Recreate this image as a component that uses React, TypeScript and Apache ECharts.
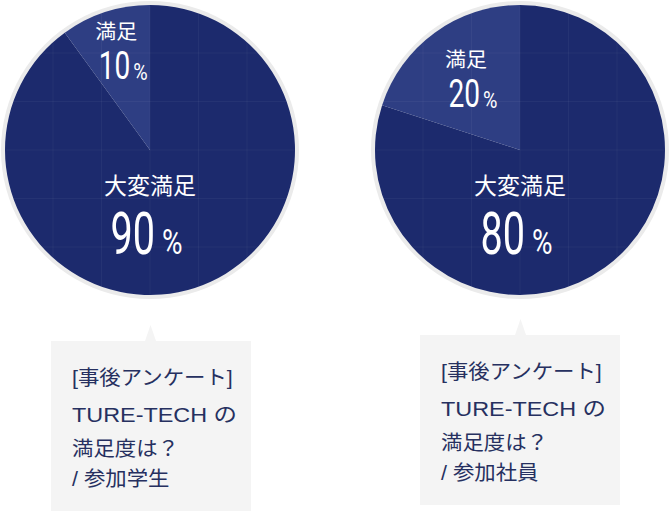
import {useEffect, useRef} from 'react';
import * as echarts from 'echarts';

// survey answers, one pie per group
const categories = ['大変満足', '満足'];
const studentValues = [90, 10];
const staffValues = [80, 20];

const boxHeading = '[事後アンケート]';
const boxQuestion = ['TURE-TECH の', '満足度は？'];
const respondents = ['/ 参加学生', '/ 参加社員'];

const NAVY = '#1c2a6d';
const NAVY_LIGHT = '#2e3e83';
const TEXT = '#263060';
const NUM_FONT = 'Roboto';
const JP_FONT = '"Liberation Sans", "Noto Sans CJK JP", sans-serif';

const R = 145;
const pies = [
    {cx: 150, cy: 150, values: studentValues, labelR: 106, box: {x: 51, y: 341, h: 175}},
    {cx: 520, cy: 150, values: staffValues, labelR: 90, box: {x: 420, y: 335, h: 170}},
];

const txt = (x: number, y: number, text: string, fontSize: number, opts: any = {}) => ({
    type: 'text',
    x,
    y,
    z: 10,
    scaleX: opts.scaleX ?? 1,
    style: {
        text,
        fontSize,
        fontFamily: opts.font ?? JP_FONT,
        fontWeight: opts.weight ?? 'normal',
        fill: opts.fill ?? '#fff',
        align: opts.align ?? 'center',
        textAlign: opts.align ?? 'center',
        verticalAlign: 'middle',
        textVerticalAlign: 'middle',
    },
});

const buildGraphic = () => {
    const els: any[] = [];
    pies.forEach((p, i) => {
        const total = p.values.reduce((a, b) => a + b, 0);
        // grey ring behind the pie
        els.push({type: 'circle', z: 0, shape: {cx: p.cx, cy: p.cy, r: R + 4}, style: {fill: '#ebebeb'}});
        // faint grid texture
        for (let k = -2; k <= 2; k++) {
            const d = k * 48.5;
            const h = Math.sqrt(R * R - d * d);
            els.push({type: 'line', z: 9, silent: true, shape: {x1: p.cx + d, y1: p.cy - h, x2: p.cx + d, y2: p.cy + h}, style: {stroke: 'rgba(255,255,255,0.045)', lineWidth: 1}});
            els.push({type: 'line', z: 9, silent: true, shape: {x1: p.cx - h, y1: p.cy + d, x2: p.cx + h, y2: p.cy + d}, style: {stroke: 'rgba(255,255,255,0.045)', lineWidth: 1}});
        }
        // main slice label
        els.push(txt(p.cx, p.cy + 36, categories[0], 23));
        els.push(txt(p.cx + 5, p.cy + 83, String(p.values[0]), 60, {font: NUM_FONT, align: 'right', scaleX: 0.66}));
        els.push(txt(p.cx + 12, p.cy + 92.5, '%', 35, {font: NUM_FONT, align: 'left', scaleX: 0.8}));
        // minor slice label, placed on the slice's middle angle
        const mid = ((90 + (p.values[1] / total) * 180) * Math.PI) / 180;
        const bx = p.cx + p.labelR * Math.cos(mid);
        const by = p.cy - p.labelR * Math.sin(mid);
        els.push(txt(bx - 1, by - 17.5, categories[1], 20, {scaleX: 1.05}));
        els.push(txt(bx + 13, by + 16, String(p.values[1]), 39, {font: NUM_FONT, align: 'right', scaleX: 0.72}));
        els.push(txt(bx + 16, by + 23, '%', 24, {font: NUM_FONT, align: 'left', scaleX: 0.82}));
        // callout box
        const b = p.box;
        els.push({type: 'rect', z: 1, shape: {x: b.x, y: b.y, width: 200, height: b.h}, style: {fill: '#f4f4f4'}});
        els.push({type: 'polygon', z: 1, shape: {points: [[p.cx + 0.5, b.y - 16], [p.cx - 5, b.y], [p.cx + 6, b.y]]}, style: {fill: '#f4f4f4'}});
        const lines = [boxHeading, ...boxQuestion, respondents[i]];
        const offs = [37, 74, 108, 138];
        lines.forEach((l, j) => {
            els.push(txt(b.x + 21, b.y + offs[j], l, 20, {align: 'left', fill: TEXT, scaleX: j === 1 ? 1.17 : 1.07}));
        });
    });
    return els;
};

const App = () => {
    const chartRef = useRef<HTMLDivElement>(null);

    useEffect(() => {
        const chart = echarts.init(chartRef.current!, undefined, {renderer: 'svg'});
        chart.setOption({
            animation: false,
            series: pies.map((p) => ({
                type: 'pie',
                center: [p.cx, p.cy],
                radius: [0, R],
                startAngle: 90,
                clockwise: true,
                silent: true,
                z: 2,
                label: {show: false},
                labelLine: {show: false},
                itemStyle: {borderWidth: 0},
                data: categories.map((name, j) => ({
                    name,
                    value: p.values[j],
                    itemStyle: {color: j === 0 ? NAVY : NAVY_LIGHT},
                })),
            })),
            graphic: buildGraphic(),
        });
        return () => {
            chart.dispose();
        };
    }, []);

    return <div ref={chartRef} style={{position: 'fixed', left: 0, top: 0, width: 671, height: 511, background: '#fff'}} />;
};

export default App;
